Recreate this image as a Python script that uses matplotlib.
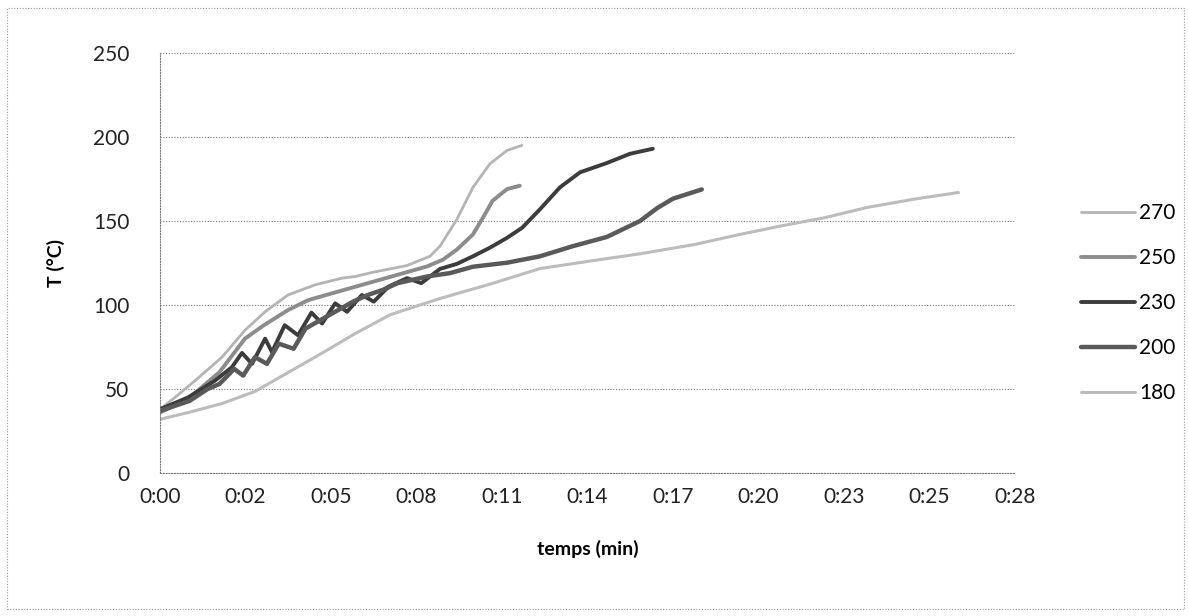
import matplotlib
matplotlib.use("Agg")
import matplotlib.pyplot as plt
from matplotlib.patches import Rectangle

plt.rcParams['font.family'] = ['Lato', 'DejaVu Sans']

# time in minutes, temperature in degC
t_270 = [0, 0.5, 1.18, 2.09, 2.86, 3.54, 4.31, 5.22, 6.13, 6.57, 7.17, 8.32, 9.09, 9.43, 10.0, 10.54, 11.11, 11.69, 12.19]
T_270 = [38, 45, 55, 69, 85, 96, 106, 112, 116, 117, 119.5, 123.5, 129, 135, 151, 170, 184, 192, 195]

t_250 = [0, 1.0, 2.0, 2.86, 3.5, 4.31, 5.0, 6.0, 7.0, 8.0, 9.0, 9.53, 10.0, 10.54, 10.88, 11.2, 11.69, 12.12]
T_250 = [36, 45, 60, 80, 88, 97, 103, 108, 113, 118, 123, 127, 133, 142, 152, 162, 169, 171]

t_230 = [0, 0.94, 1.85, 2.42, 2.76, 3.1, 3.54, 3.77, 4.2, 4.65, 5.1, 5.46, 5.9, 6.3, 6.8, 7.2, 7.7, 8.32, 8.8,
         9.43, 10.0, 10.54, 11.1, 11.69, 12.2, 12.8, 13.47, 14.15, 15.05, 15.83, 16.6]
T_230 = [38, 45, 55, 63, 71.5, 65, 80, 72, 88, 82, 95.5, 89, 101, 96, 106, 102, 111, 116, 113,
         121.5, 124.5, 129, 134, 140, 146, 157, 170, 179, 184.5, 190, 193]

t_200 = [0, 1.0, 1.6, 2.0, 2.5, 2.8, 3.2, 3.6, 4.0, 4.5, 4.9, 5.5, 6.0, 6.5, 7.0, 7.5, 8.0, 8.5, 9.0, 9.77,
         10.54, 11.69, 12.8, 13.9, 15.05, 16.17, 16.74, 17.28, 18.25]
T_200 = [37, 43, 50, 53, 62, 58, 69, 65, 77, 74, 86, 92, 97, 102, 106, 109, 113, 115, 117, 119,
         122.8, 125.2, 129, 135, 140.5, 150, 157.6, 163.3, 168.8]

t_180 = [0, 0.94, 2.09, 3.2, 4.31, 5.46, 6.57, 7.75, 9.43, 11.11, 12.8, 14.8, 16.17, 18.0, 19.53, 20.9, 22.4, 23.8, 25.4, 26.9]
T_180 = [32, 36, 41.4, 48.6, 59.8, 71.4, 83, 94.2, 103.9, 112.4, 121.7, 127, 130.5, 136, 142, 147, 152, 158, 163, 167]

series = [
    ("270", t_270, T_270, "#b4b4b4", 2.0),
    ("250", t_250, T_250, "#8c8c8c", 2.8),
    ("230", t_230, T_230, "#3c3c3c", 2.8),
    ("200", t_200, T_200, "#5a5a5a", 3.2),
    ("180", t_180, T_180, "#bcbcbc", 2.2),
]

x_ticks = [i * 2.88 for i in range(11)]
x_labels = ['0:00', '0:02', '0:05', '0:08', '0:11', '0:14', '0:17', '0:20', '0:23', '0:25', '0:28']
y_ticks = [0, 50, 100, 150, 200, 250]

fig = plt.figure(figsize=(11.89, 6.16), dpi=100)
ax = fig.add_axes([0.1346, 0.232, 0.719, 0.682])

for name, t, T, col, lw in series:
    ax.plot(t, T, color=col, lw=lw, label=name, solid_capstyle='round')

ax.set_xlim(0, 28.8)
ax.set_ylim(0, 250)
ax.set_xticks(x_ticks)
ax.set_xticklabels(x_labels)
ax.set_yticks(y_ticks)
ax.tick_params(length=0, labelsize=15, colors='#222222')
ax.tick_params(axis='x', pad=10)
ax.tick_params(axis='y', pad=22)

ax.yaxis.grid(True, color='#7a7a7a', lw=0.8, linestyle=(0, (1, 1.5)))
ax.set_axisbelow(True)
for s in ['top', 'right']:
    ax.spines[s].set_visible(False)
for s in ['left', 'bottom']:
    ax.spines[s].set_color('#7a7a7a')
    ax.spines[s].set_linestyle((0, (1, 1.5)))
    ax.spines[s].set_linewidth(0.8)

ax.set_xlabel('temps (min)', fontsize=14, fontweight='bold', labelpad=24)
ax.set_ylabel('T (°C)', fontsize=14, fontweight='bold', labelpad=20)

fig.legend(loc='center left', bbox_to_anchor=(0.893, 0.508), frameon=False,
           fontsize=15, handlelength=2.6, handletextpad=0.2, labelspacing=1.2)

fig.patches.append(Rectangle((0.006, 0.012), 0.99, 0.975, transform=fig.transFigure,
                             fill=False, ec='#9a9a9a', lw=0.8, ls=(0, (1, 1.5))))

fig.savefig('out.png', dpi=100)
